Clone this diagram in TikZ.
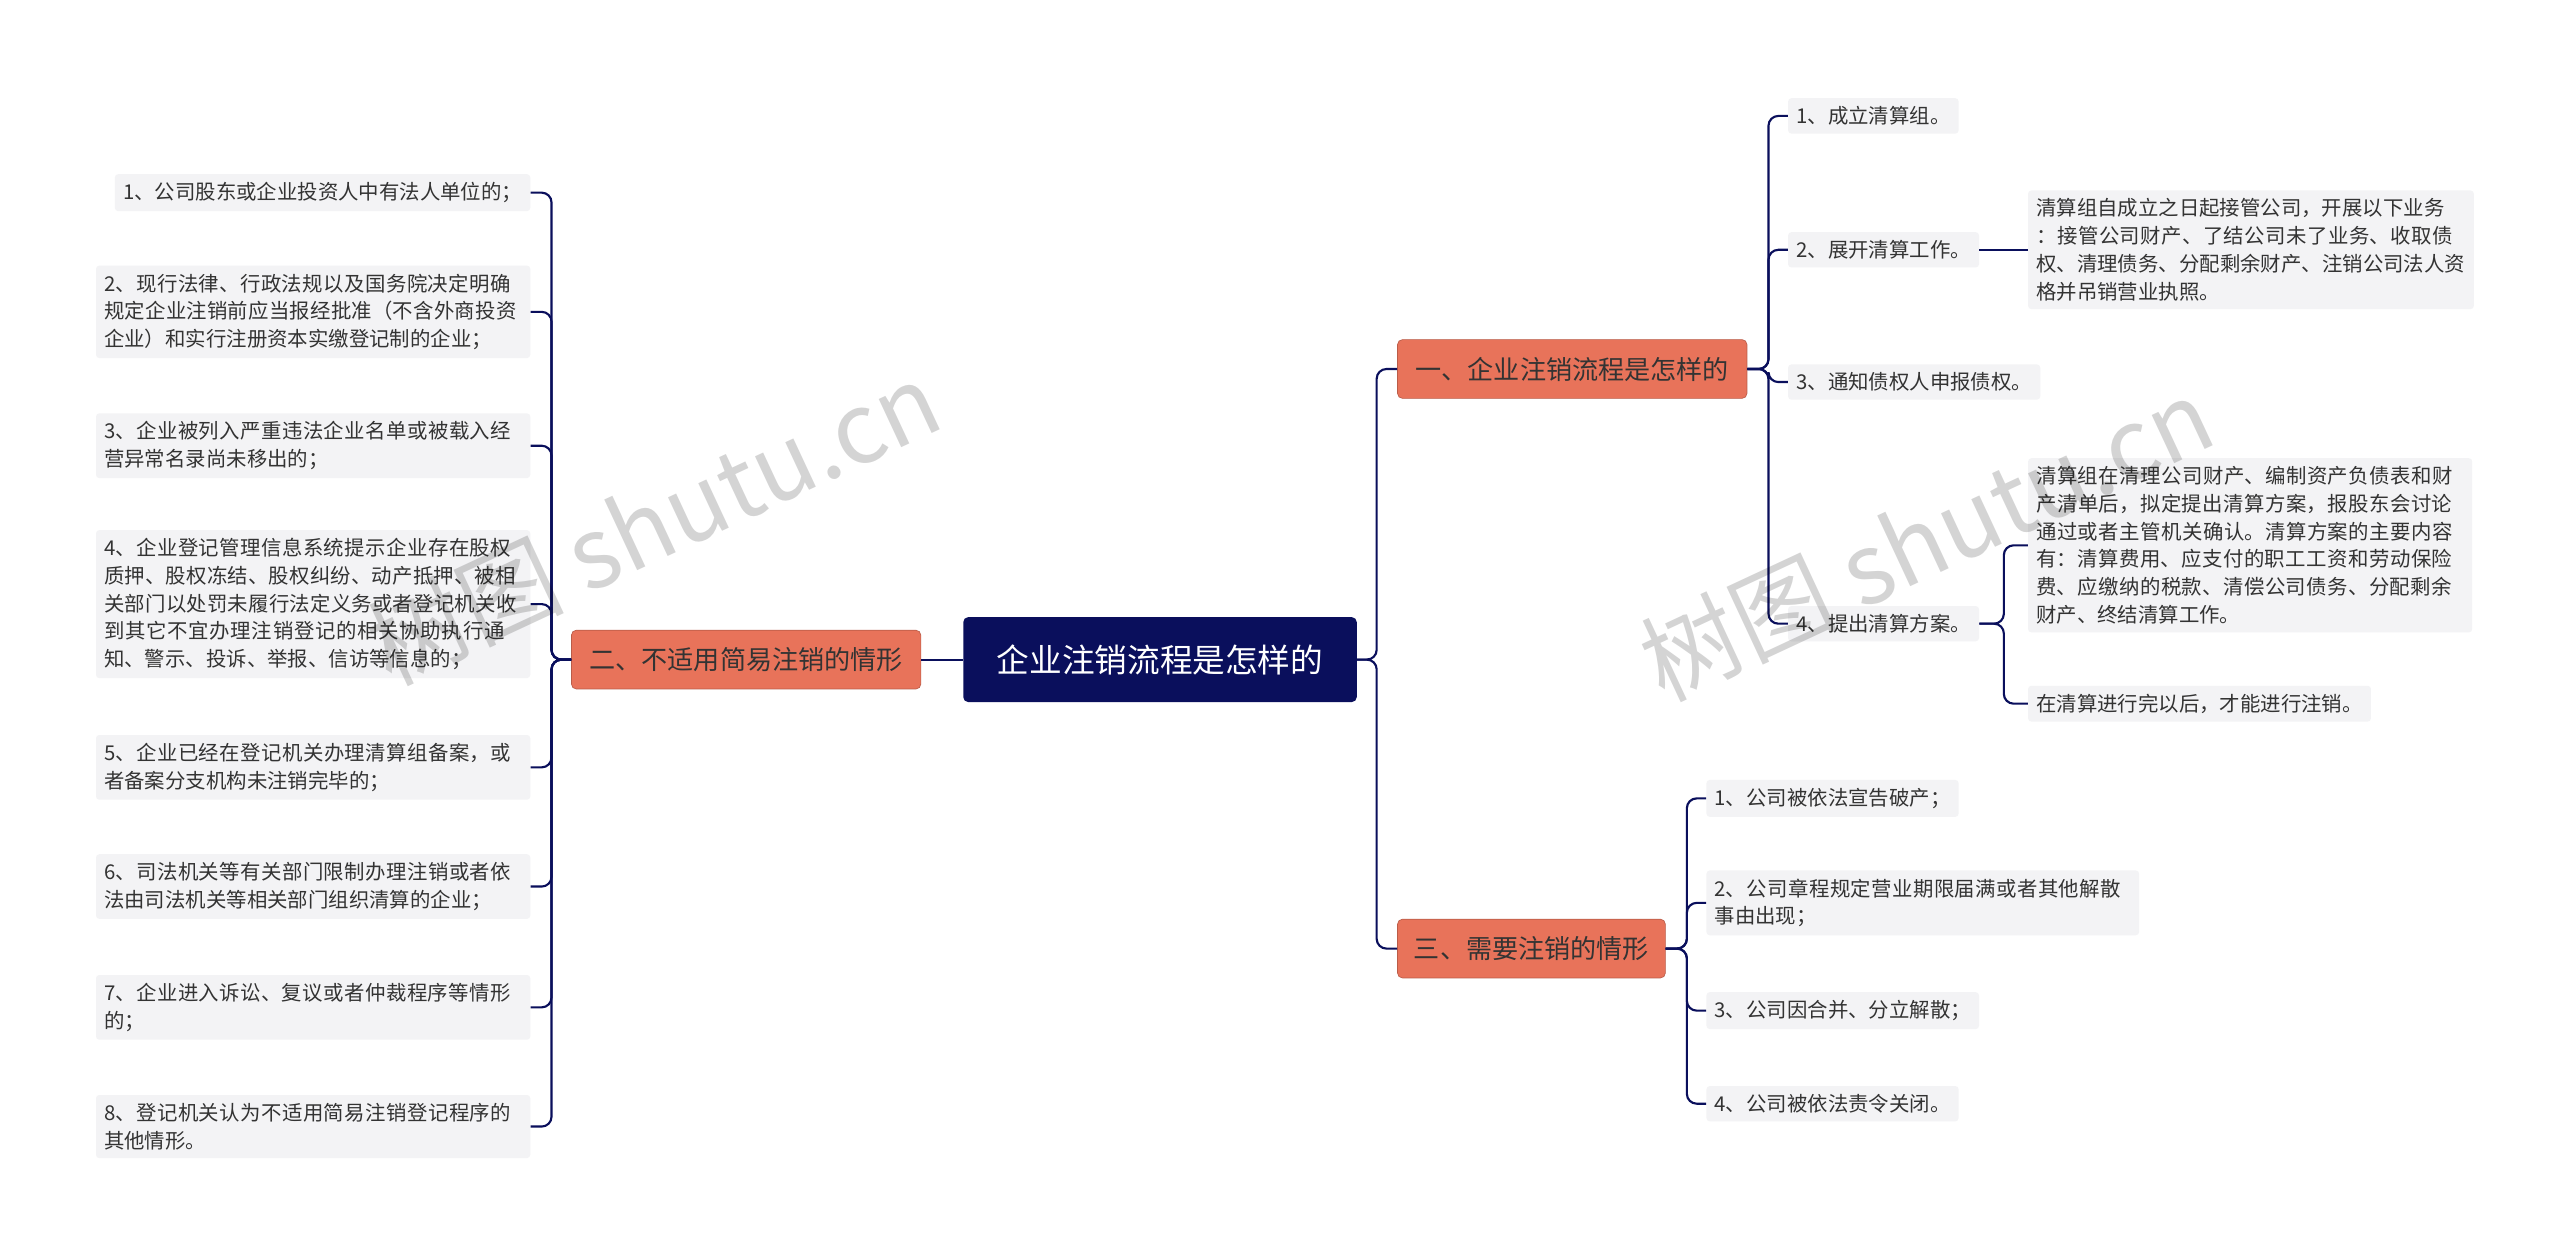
\documentclass[tikz,border=0pt]{standalone}
\usepackage{fontspec}
\setmainfont{Noto Sans CJK SC}
\XeTeXlinebreaklocale "zh"
\XeTeXlinebreakskip=0pt plus 1pt
\usetikzlibrary{calc}
\definecolor{navy}{HTML}{0A0F5C}
\definecolor{salmon}{HTML}{E8735A}
\definecolor{leafbg}{HTML}{F3F3F5}
\definecolor{leaftx}{HTML}{333333}
\tikzset{
 conn/.style={draw=navy,line width=1.3pt,rounded corners=6pt},
 leaf/.style={fill=leafbg,text=leaftx,font=\fontsize{12.5}{17}\selectfont,inner xsep=5pt,inner ysep=5pt,rounded corners=2pt,align=left},
 branch/.style={fill=salmon,draw=salmon!80!black,text=white!20!black,font=\fontsize{16}{20}\selectfont,inner xsep=8pt,minimum height=36pt,rounded corners=3pt},
 wm/.style={text=black,text opacity=0.17,font=\fontsize{60}{60}\selectfont,rotate=25}
}
\begin{document}
\begin{tikzpicture}[x=1pt,y=-1pt]
\useasboundingbox (0,0) rectangle (1568,769);
\fill[white] (0,0) rectangle (1568,769);
\node[fill=navy,text=white,font=\fontsize{20}{24}\selectfont,minimum width=241pt,minimum height=52pt,rounded corners=3pt] (c) at (710.5,404) {企业注销流程是怎样的};
\node[branch,minimum width=214pt] (b1) at (963,226) {一、企业注销流程是怎样的};
\node[branch,minimum width=214pt] (b2) at (457,404) {二、不适用简易注销的情形};
\node[branch,minimum width=164pt] (b3) at (938,581) {三、需要注销的情形};
% branch 1
\node[leaf,anchor=west] (r1) at (1095,71) {1、成立清算组。};
\node[leaf,anchor=west] (r2) at (1095,153) {2、展开清算工作。};
\node[leaf,anchor=west,text width=263pt] (r2a) at (1242,153) {清算组自成立之日起接管公司，开展以下业务\hfil\break ：接管公司财产、了结公司未了业务、收取债权、清理债务、分配剩余财产、注销公司法人资格并吊销营业执照。};
\node[leaf,anchor=west] (r3) at (1095,234) {3、通知债权人申报债权。};
\node[leaf,anchor=west] (r4) at (1095,382) {4、提出清算方案。};
\node[leaf,anchor=west,text width=262pt] (r4a) at (1242,334) {清算组在清理公司财产、编制资产负债表和财产清单后，拟定提出清算方案，报股东会讨论通过或者主管机关确认。清算方案的主要内容有：清算费用、应支付的职工工资和劳动保险费、应缴纳的税款、清偿公司债务、分配剩余财产、终结清算工作。};
\node[leaf,anchor=west] (r4b) at (1242,431) {在清算进行完以后，才能进行注销。};
% branch 3
\node[leaf,anchor=west] (s1) at (1045,489) {1、公司被依法宣告破产；};
\node[leaf,anchor=west,text width=255pt] (s2) at (1045,553) {2、公司章程规定营业期限届满或者其他解散事由出现；};
\node[leaf,anchor=west] (s3) at (1045,619) {3、公司因合并、分立解散；};
\node[leaf,anchor=west] (s4) at (1045,676) {4、公司被依法责令关闭。};
% branch 2
\node[leaf,anchor=east] (l1) at (325,118) {1、公司股东或企业投资人中有法人单位的；};
\node[leaf,anchor=east,text width=256pt] (l2) at (325,191) {2、现行法律、行政法规以及国务院决定明确规定企业注销前应当报经批准（不含外商投资企业）和实行注册资本实缴登记制的企业；};
\node[leaf,anchor=east,text width=256pt] (l3) at (325,273) {3、企业被列入严重违法企业名单或被载入经营异常名录尚未移出的；};
\node[leaf,anchor=east,text width=256pt] (l4) at (325,370) {4、企业登记管理信息系统提示企业存在股权质押、股权冻结、股权纠纷、动产抵押、被相关部门以处罚未履行法定义务或者登记机关收到其它不宜办理注销登记的相关协助执行通知、警示、投诉、举报、信访等信息的；};
\node[leaf,anchor=east,text width=256pt] (l5) at (325,470) {5、企业已经在登记机关办理清算组备案，或者备案分支机构未注销完毕的；};
\node[leaf,anchor=east,text width=256pt] (l6) at (325,543) {6、司法机关等有关部门限制办理注销或者依法由司法机关等相关部门组织清算的企业；};
\node[leaf,anchor=east,text width=256pt] (l7) at (325,617) {7、企业进入诉讼、复议或者仲裁程序等情形的；};
\node[leaf,anchor=east,text width=256pt] (l8) at (325,690) {8、登记机关认为不适用简易注销登记程序的其他情形。};
% connectors
\draw[conn] (c.west) -- (b2.east);
\foreach \b in {b1,b3} \draw[conn] (c.east) -- ($(c.east)+(12,0)$) |- (\b.west);
\foreach \r in {r1,r2,r3,r4} \draw[conn] (b1.east) -- ($(b1.east)+(13,0)$) |- (\r.west);
\draw[conn] (r2.east) -- (r2a.west |- r2.east);
\foreach \r in {r4a,r4b} \draw[conn] (r4.east) -- ($(r4.east)+(15,0)$) |- (\r.west);
\foreach \s in {s1,s2,s3,s4} \draw[conn] (b3.east) -- ($(b3.east)+(13,0)$) |- (\s.west);
\foreach \l in {l1,l2,l3,l4,l5,l6,l7,l8} \draw[conn] (b2.west) -- ($(b2.west)+(-12,0)$) |- (\l.east);
% watermarks
\node[wm] (w1) at (400,320) {树图 shutu.cn};
\node[wm] (w2) at (1180,330) {树图 shutu.cn};
\end{tikzpicture}
\end{document}
